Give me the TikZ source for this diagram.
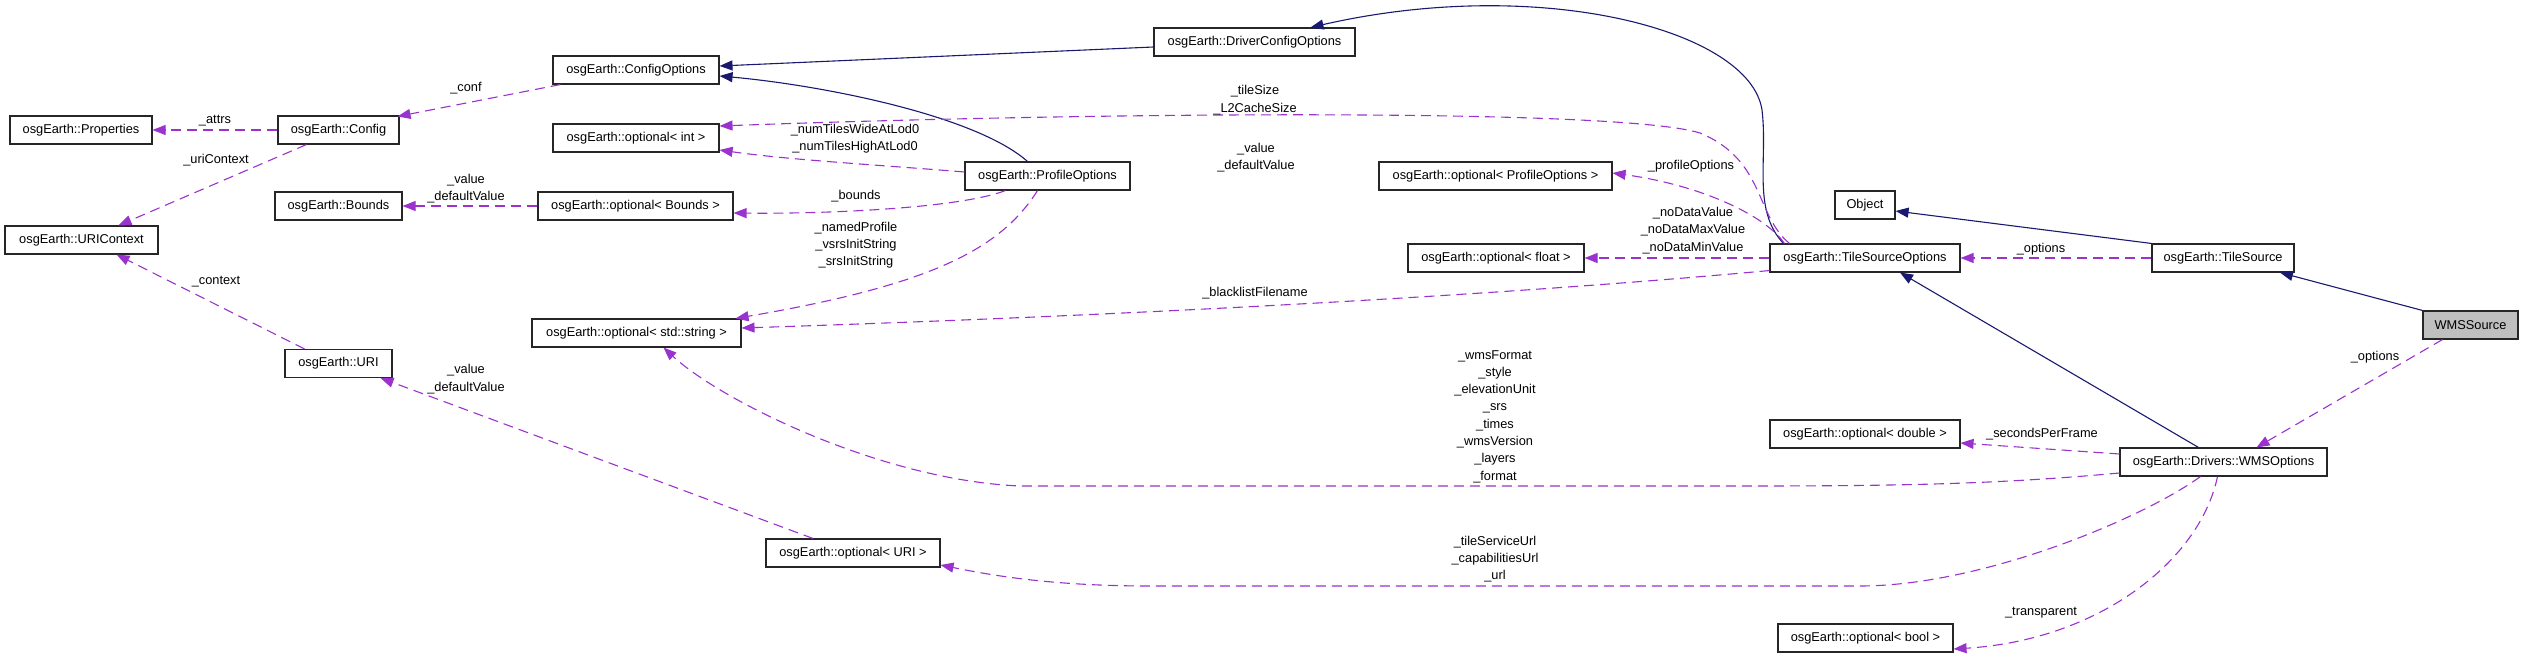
\documentclass[tikz,border=0pt]{standalone}
\usepackage{fontspec}
\setmainfont{Liberation Sans}
\usetikzlibrary{arrows.meta,calc}
\definecolor{navyc}{HTML}{191970}
\definecolor{purpc}{HTML}{9A32CD}
\newcommand\dfont{\fontsize{12.8}{17.3}\selectfont}
\tikzset{
  box/.style={draw=black!85, line width=1.1pt, fill=white, minimum height=28pt, inner sep=0pt, font=\dfont},
  inh/.style={draw=navyc, line width=1.1pt, -{Triangle[length=13pt,width=10pt]}},
  use/.style={draw=purpc, line width=1.1pt, dash pattern=on 10pt off 6pt, -{Triangle[length=13pt,width=10pt]}},
  lbl/.style={align=center, font=\dfont, inner sep=0pt}
}
\begin{document}
\begin{tikzpicture}[x=1pt,y=-1pt]
\useasboundingbox (0,0) rectangle (2533,658);
% nodes
\node[box, minimum width=142pt] (prop) at (81,130) {osgEarth::Properties};
\node[box, minimum width=121pt] (cfg) at (338.5,130) {osgEarth::Config};
\node[box, minimum width=166pt] (co) at (636,70) {osgEarth::ConfigOptions};
\node[box, minimum width=201pt] (dco) at (1254.5,42) {osgEarth::DriverConfigOptions};
\node[box, minimum width=166pt] (oint) at (636,138) {osgEarth::optional< int >};
\node[box, minimum width=165pt] (po) at (1047.5,176) {osgEarth::ProfileOptions};
\node[box, minimum width=233pt] (opo) at (1495.5,176) {osgEarth::optional< ProfileOptions >};
\node[box, minimum width=127pt] (bnd) at (338.5,206) {osgEarth::Bounds};
\node[box, minimum width=195pt] (obnd) at (635.5,206) {osgEarth::optional< Bounds >};
\node[box, minimum width=153pt] (uric) at (81.5,240) {osgEarth::URIContext};
\node[box, minimum width=60pt] (obj) at (1865,205) {Object};
\node[box, minimum width=190pt] (tso) at (1865,258) {osgEarth::TileSourceOptions};
\node[box, minimum width=176pt] (oflt) at (1496,258) {osgEarth::optional< float >};
\node[box, minimum width=142pt] (ts) at (2223,258) {osgEarth::TileSource};
\node[box, minimum width=209pt] (ostr) at (636.5,333) {osgEarth::optional< std::string >};
\node[box, minimum width=95pt, fill={rgb,255:red,191;green,191;blue,191}] (wms) at (2470.5,325) {WMSSource};
\node[box, minimum width=107pt] (uri) at (338.5,363.5) {osgEarth::URI};
\node[box, minimum width=190pt] (odbl) at (1865,434) {osgEarth::optional< double >};
\node[box, minimum width=207pt] (wmso) at (2223.5,462) {osgEarth::Drivers::WMSOptions};
\node[box, minimum width=174pt] (ouri) at (853,553) {osgEarth::optional< URI >};
\node[box, minimum width=175pt] (obool) at (1865.5,638) {osgEarth::optional< bool >};
% inheritance
\draw[inh] ($(dco.west)+(0,5)$) -- ($(co.east)+(0,-4)$);
\draw[inh] ($(po.north)+(-20,0)$) .. controls (975,115) and (820,85) .. ($(co.east)+(0,6)$);
\draw[inh] ($(tso.north west)+(14,0)$) .. controls (1752,210) and (1768,160) .. (1762,110) .. controls (1750,30) and (1540,-25) .. ($(dco.north)+(56,0)$);
\draw[inh] (ts.north west) -- ($(obj.east)+(0,6)$);
\draw[inh] (wms.north west) -- ($(ts.south)+(57,0)$);
\draw[inh] ($(wmso.north)+(-25,0)$) -- ($(tso.south)+(35,0)$);
% usage
\draw[use] ($(co.south west)+(8,0)$) -- ($(cfg.north east)+(-2,1)$);
\draw[use] (cfg.west) -- (prop.east);
\draw[use] ($(cfg.south)+(-32,0)$) -- ($(uric.north)+(37,0)$);
\draw[use] ($(uri.north)+(-34,0)$) -- ($(uric.south)+(35,0)$);
\draw[use] (obnd.west) -- (bnd.east);
\draw[use] ($(ouri.north)+(-40,0)$) -- ($(uri.south east)+(-12,0)$);
\draw[use] ($(po.west)+(0,-4)$) .. controls (880,165) and (790,160) .. ($(oint.east)+(0,12)$);
\draw[use] ($(po.south)+(-42,0)$) .. controls (960,208) and (830,214) .. ($(obnd.east)+(0,7)$);
\draw[use] ($(po.south)+(-10,0)$) .. controls (1000,250) and (930,285) .. ($(ostr.north east)+(-6,0)$);
\draw[use] ($(tso.north west)+(20,0)$) .. controls (1755,215) and (1765,160) .. (1700,133) .. controls (1620,108) and (1100,112) .. ($(oint.east)+(0,-12)$);
\draw[use] ($(tso.north west)+(15,0)$) .. controls (1765,215) and (1700,185) .. ($(opo.east)+(0,-3)$);
\draw[use] (tso.west) -- (oflt.east);
\draw[use] ($(tso.south west)+(0,-2)$) .. controls (1450,300) and (1050,318) .. ($(ostr.east)+(0,-5)$);
\draw[use] (ts.west) -- (tso.east);
\draw[use] ($(wms.south west)+(20,0)$) -- ($(wmso.north)+(33,0)$);
\draw[use] ($(wmso.west)+(0,-8)$) -- ($(odbl.east)+(0,9)$);
\draw[use] ($(wmso.west)+(0,11)$) .. controls (2000,484) and (1900,486) .. (1750,486) -- (1020,486) .. controls (880,480) and (720,400) .. ($(ostr.south)+(27,0)$);
\draw[use] ($(wmso.south)+(-23,0)$) .. controls (2140,520) and (1980,586) .. (1860,586) -- (1150,586) .. controls (1050,586) and (990,575) .. ($(ouri.east)+(0,12)$);
\draw[use] ($(wmso.south)+(-6,0)$) .. controls (2200,560) and (2100,640) .. ($(obool.east)+(0,11)$);
% labels
\node[lbl] (l1) at (215,121) {\_attrs};
\node[lbl] (l2) at (466,88) {\_conf};
\node[lbl] (l3) at (216,160) {\_uriContext};
\node[lbl] (l4) at (466,188.5) {\_value\\\_defaultValue};
\node[lbl] (l5) at (216,282) {\_context};
\node[lbl] (l6) at (466,379) {\_value\\\_defaultValue};
\node[lbl] (l7) at (1255,100) {\_tileSize\\\_L2CacheSize};
\node[lbl] (l8) at (855,139) {\_numTilesWideAtLod0\\\_numTilesHighAtLod0};
\node[lbl] (l9) at (1256,157.5) {\_value\\\_defaultValue};
\node[lbl] (l10) at (856,196) {\_bounds};
\node[lbl] (l11) at (856,245) {\_namedProfile\\\_vsrsInitString\\\_srsInitString};
\node[lbl] (l12) at (1255,293) {\_blacklistFilename};
\node[lbl] (l13) at (1691,166) {\_profileOptions};
\node[lbl] (l14) at (1693,230.5) {\_noDataValue\\\_noDataMaxValue\\\_noDataMinValue};
\node[lbl] (l15) at (2041,249) {\_options};
\node[lbl] (l16) at (1495,416.5) {\_wmsFormat\\\_style\\\_elevationUnit\\\_srs\\\_times\\\_wmsVersion\\\_layers\\\_format};
\node[lbl] (l17) at (2042,434) {\_secondsPerFrame};
\node[lbl] (l18) at (1495,559) {\_tileServiceUrl\\\_capabilitiesUrl\\\_url};
\node[lbl] (l19) at (2041,613) {\_transparent};
\node[lbl] (l20) at (2375,357) {\_options};
\end{tikzpicture}
\end{document}
